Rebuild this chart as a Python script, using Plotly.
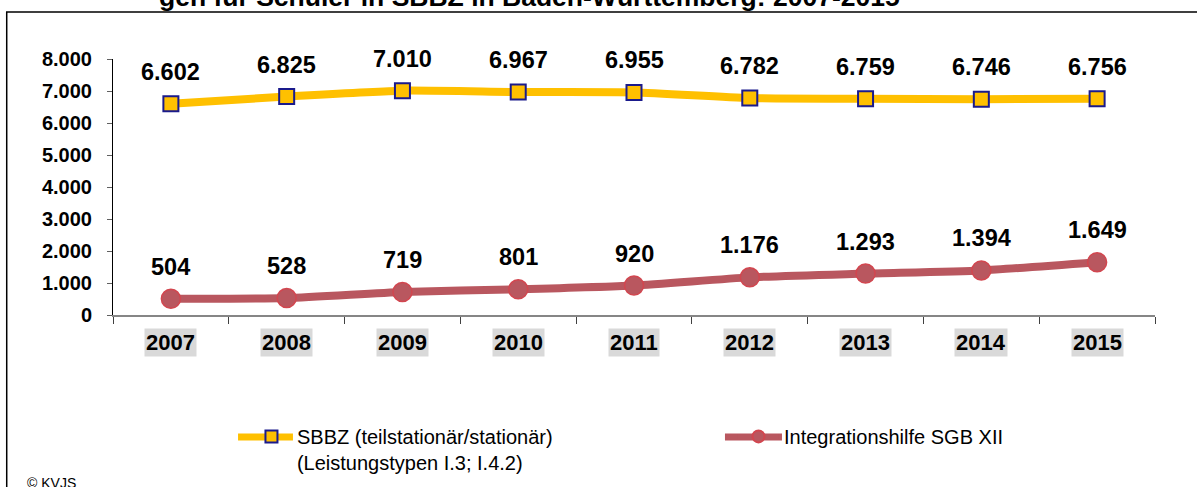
import plotly.graph_objects as go

years = ["2007", "2008", "2009", "2010", "2011", "2012", "2013", "2014", "2015"]
sbbz = [6602, 6825, 7010, 6967, 6955, 6782, 6759, 6746, 6756]
integration = [504, 528, 719, 801, 920, 1176, 1293, 1394, 1649]

sbbz_name = "SBBZ (teilstationär/stationär)<br>(Leistungstypen I.3; I.4.2)"
integration_name = "Integrationshilfe SGB XII"
title_text = "gen für Schüler in SBBZ in Baden-Württemberg: 2007-2015"

ytick_vals = [0, 1000, 2000, 3000, 4000, 5000, 6000, 7000, 8000]

YELLOW = "#FFC000"
RED = "#B9575F"


def de(n):
    return f"{n:,}".replace(",", ".")


FONT = "Liberation Sans, Arial, sans-serif"

fig = go.Figure()
fig.add_trace(go.Scatter(
    x=years, y=sbbz, name=sbbz_name, mode="lines+markers",
    line=dict(color=YELLOW, width=8, shape="spline", smoothing=0.6),
    marker=dict(symbol="square", size=15, color=YELLOW,
                line=dict(color="#1A1A8C", width=2)),
    legend="legend",
))
fig.add_trace(go.Scatter(
    x=years, y=integration, name=integration_name, mode="lines+markers",
    line=dict(color=RED, width=8, shape="spline", smoothing=0.6),
    marker=dict(symbol="circle", size=19, color=RED,
                line=dict(color="#D2464F", width=1.5)),
    legend="legend2",
))

annotations = []
# value labels above each point (category index positions)
for series in (sbbz, integration):
    for i, v in enumerate(series):
        annotations.append(dict(
            x=i, y=v, xref="x", yref="y", text=f"<b>{de(v)}</b>",
            showarrow=False, yshift=32,
            font=dict(family=FONT, size=23.5, color="black"),
        ))

# category labels with shaded background
for i, yr in enumerate(years):
    annotations.append(dict(
        x=i, y=-0.1055, xref="x", yref="paper", text=f"<b>{yr}</b>",
        xanchor="center", yanchor="middle",
        showarrow=False, bgcolor="#D9D9D9", borderpad=1,
        font=dict(family=FONT, size=22, color="black"),
    ))

annotations.append(dict(
    x=0.3997, y=1.176, xref="paper", yref="paper", xanchor="center",
    yanchor="bottom", text=f"<b>{title_text}</b>",
    showarrow=False, font=dict(family=FONT, size=26.5, color="black"),
))
annotations.append(dict(
    x=-0.0845, y=-0.695, xref="paper", yref="paper", xanchor="left",
    yanchor="bottom", text="© KVJS", showarrow=False,
    font=dict(family=FONT, size=14, color="black"),
))

legend_style = dict(orientation="h", xanchor="left", yanchor="top",
                    font=dict(family=FONT, size=20, color="black"),
                    bgcolor="rgba(0,0,0,0)", itemwidth=41,
                    itemsizing="constant", valign="top")

# frame around the chart, plus longer line stubs behind the legend symbols
shapes = [
    dict(type="rect", xref="paper", yref="paper",
         x0=-0.102, x1=1.2, y0=-1.0, y1=1.1836,
         line=dict(color="black", width=1.5), layer="below"),
    dict(type="line", xref="paper", yref="paper",
         x0=0.1200, x1=0.1727, y0=-0.4766, y1=-0.4766,
         line=dict(color=YELLOW, width=7), layer="above"),
    dict(type="line", xref="paper", yref="paper",
         x0=0.5873, x1=0.6420, y0=-0.4766, y1=-0.4766,
         line=dict(color=RED, width=7), layer="above"),
]

fig.update_layout(
    width=1197, height=487,
    margin=dict(l=113, r=42, t=59, b=172, autoexpand=False),
    paper_bgcolor="white", plot_bgcolor="white",
    separators=",.",
    font=dict(family=FONT, color="black"),
    annotations=annotations,
    shapes=shapes,
    legend=dict(x=0.1276, y=-0.398, **legend_style),
    legend2=dict(x=0.595, y=-0.398, **legend_style),
    showlegend=True,
)
fig.update_xaxes(
    type="category", range=[-0.5, len(years) - 0.5],
    showgrid=False, showticklabels=False,
    showline=True, linecolor="#868686", linewidth=1.5,
    ticks="outside", tickson="boundaries", ticklen=7, tickcolor="#404040",
)
fig.update_yaxes(
    range=[0, 8000], tickvals=ytick_vals,
    ticktext=[f"<b>{de(v)}</b>" for v in ytick_vals],
    showgrid=False, zeroline=False, showline=True, linecolor="black",
    linewidth=1, ticks="outside", ticklen=5, tickcolor="#606060",
    tickfont=dict(family=FONT, size=20, color="black"),
    ticklabelstandoff=11,
)

fig.write_html("out.html")
